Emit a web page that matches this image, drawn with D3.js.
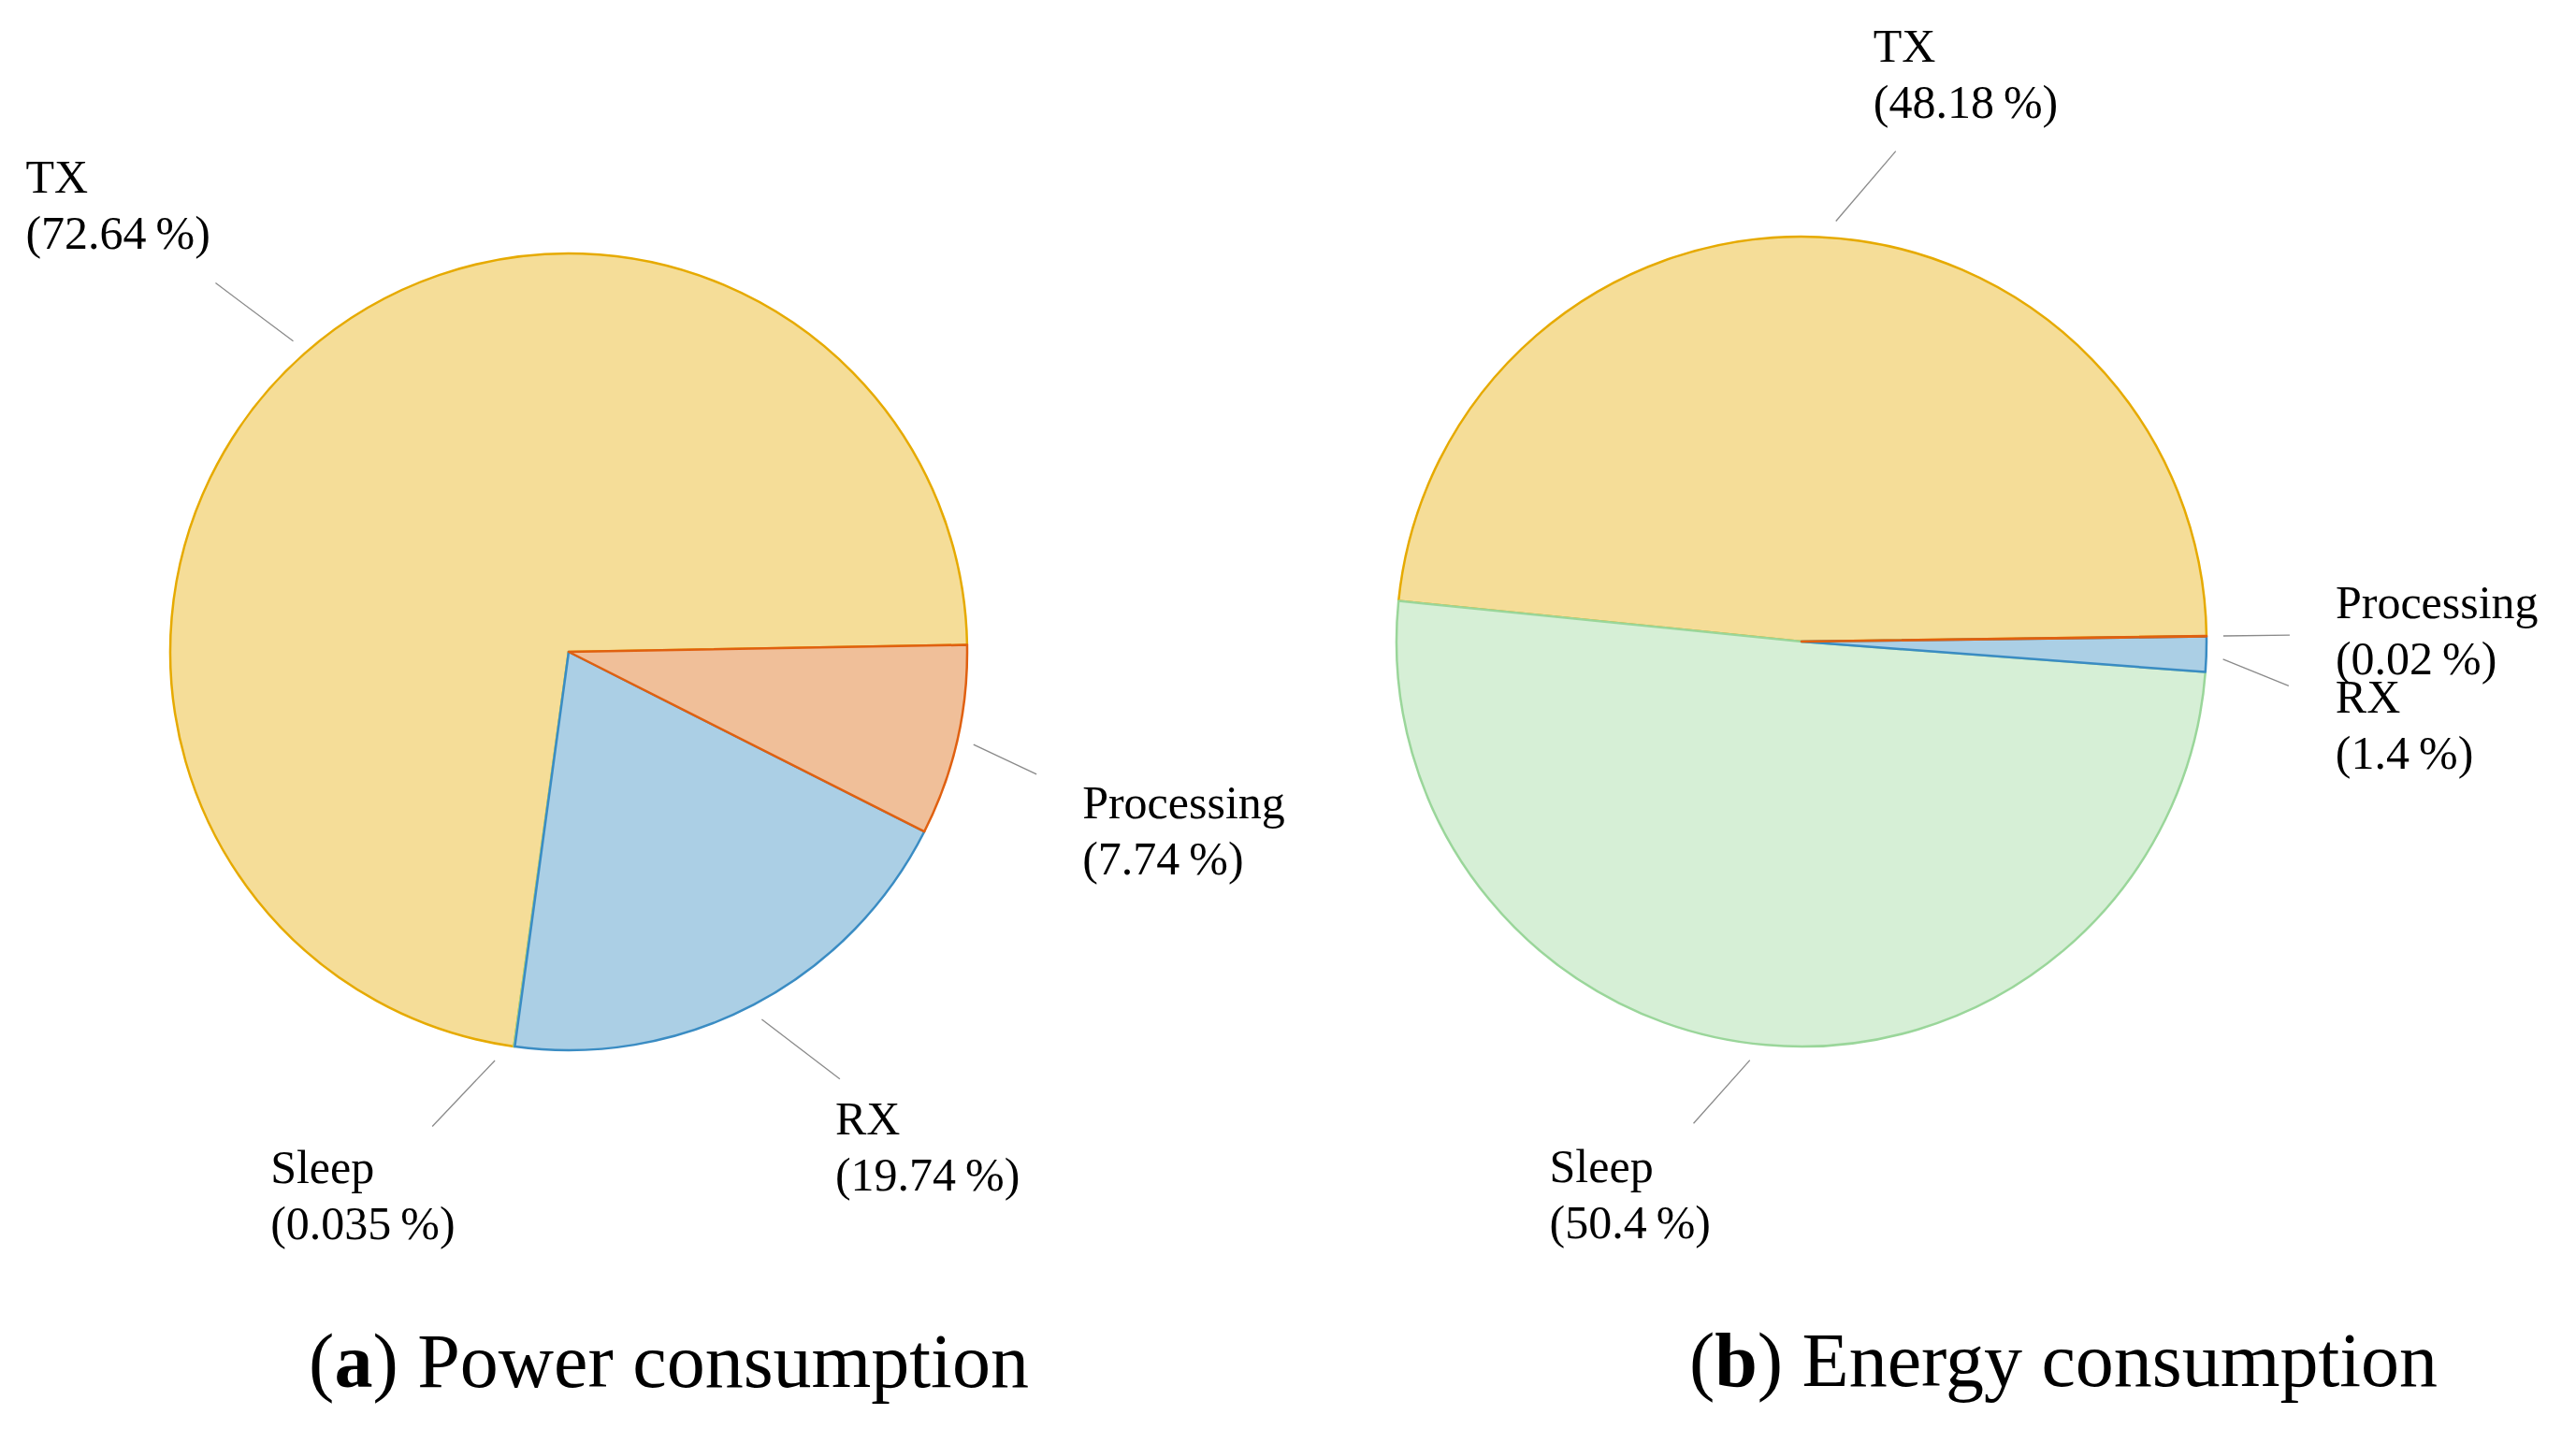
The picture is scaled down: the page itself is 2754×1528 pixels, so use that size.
<!DOCTYPE html>
<html>
<head>
<meta charset="utf-8">
<script src="https://cdn.jsdelivr.net/npm/d3@7"></script>
<style>
  html, body { margin: 0; padding: 0; background: #ffffff; }
  svg { display: block; }
</style>
</head>
<body>
<svg id="chart" width="2754" height="1528"></svg>
<script>
// ---------------- DATA ----------------
const categories   = ["Processing", "RX", "Sleep", "TX"];
const powerValues  = [7.74, 19.74, 0.035, 72.64];
const energyValues = [0.02, 1.4, 50.4, 48.18];
const captionLetters = ["a", "b"];
const captionTexts   = ["Power consumption", "Energy consumption"];

// ---------------- STYLE / LAYOUT ----------------
const fills   = { TX: "#F5DD98", Processing: "#F0BF99", RX: "#ABCFE5", Sleep: "#D6EFD6" };
const strokes = { TX: "#E6AA00", Processing: "#E06010", RX: "#3A8CC3", Sleep: "#9AD69A" };
const drawOrder = ["TX", "Sleep", "RX", "Processing"];

const panels = [
  { values: powerValues,  cx: 608,  cy: 697, r: 426, startDeg: 89.0, capX: 715,  capY: 1483,
    labels: {
      Processing: { stw: 0,   tw: 1.75, ext: 91,  dx: 49,   dy: 47 },
      RX:         { stw: 0,   tw: -4.7, ext: 115, dx: -5,   dy: 59 },
      Sleep:      { stw: 2.4, tw: 8.2,  ext: 102, dx: -173, dy: 61 },
      TX:         { stw: 0,   tw: -2.2, ext: 120, dx: -203, dy: -97 }
    } },
  { values: energyValues, cx: 1926, cy: 686, r: 433, startDeg: 89.2, capX: 2206, capY: 1482,
    labels: {
      Processing: { stw: 0,   tw: 0,    ext: 89,  dx: 49,   dy: -18 },
      RX:         { stw: 0.6, tw: 3.4,  ext: 90,  dx: 50,   dy: 29 },
      Sleep:      { stw: 2.0, tw: 7.6,  ext: 95,  dx: -154, dy: 63 },
      TX:         { stw: 2.2, tw: 8.4,  ext: 101, dx: -24,  dy: -96 }
    } }
];

const labelFont = "'Liberation Serif', 'DejaVu Serif', serif";
const labelSize = 50;
const lineGap = 60;
const rad = Math.PI / 180;

const svg = d3.select("#chart");

function polar(angle, radius) {
  return [Math.sin(angle) * radius, -Math.cos(angle) * radius];
}

panels.forEach((p, pi) => {
  const data = categories.map((c, i) => ({ cat: c, value: p.values[i] }));
  const start = p.startDeg * rad;
  const pie = d3.pie().sort(null).value(d => d.value)
    .startAngle(start).endAngle(start + 2 * Math.PI);
  const arcs = pie(data);
  const arc = d3.arc().innerRadius(0).outerRadius(p.r);

  const g = svg.append("g").attr("transform", `translate(${p.cx},${p.cy})`);

  const ordered = drawOrder.map(c => arcs.find(a => a.data.cat === c));
  g.selectAll("path.slice").data(ordered).enter().append("path")
    .attr("class", "slice")
    .attr("d", arc)
    .attr("fill", d => fills[d.data.cat])
    .attr("stroke", d => strokes[d.data.cat])
    .attr("stroke-width", 2.5)
    .attr("stroke-linejoin", "round");

  // leader lines + labels
  arcs.forEach(a => {
    const L = p.labels[a.data.cat];
    const mid = (a.startAngle + a.endAngle) / 2;
    const s = polar(mid + L.stw * rad, p.r + 18);
    const e = polar(mid + L.tw * rad, p.r + L.ext);
    g.append("line")
      .attr("x1", s[0]).attr("y1", s[1])
      .attr("x2", e[0]).attr("y2", e[1])
      .attr("stroke", "#8a8a8a").attr("stroke-width", 1.3);
    const t = g.append("text")
      .attr("font-family", labelFont)
      .attr("font-size", labelSize)
      .attr("fill", "#000");
    t.append("tspan").attr("x", e[0] + L.dx).attr("y", e[1] + L.dy).text(a.data.cat);
    t.append("tspan").attr("x", e[0] + L.dx).attr("y", e[1] + L.dy + lineGap)
      .text("(" + a.data.value + "\u2009%)");
  });

  // caption
  const cap = svg.append("text")
    .attr("x", p.capX).attr("y", p.capY)
    .attr("text-anchor", "middle")
    .attr("font-family", labelFont)
    .attr("font-size", 82)
    .attr("fill", "#000");
  cap.append("tspan").text("(");
  cap.append("tspan").attr("font-weight", "bold").text(captionLetters[pi]);
  cap.append("tspan").text(") " + captionTexts[pi]);
});
</script>
</body>
</html>
